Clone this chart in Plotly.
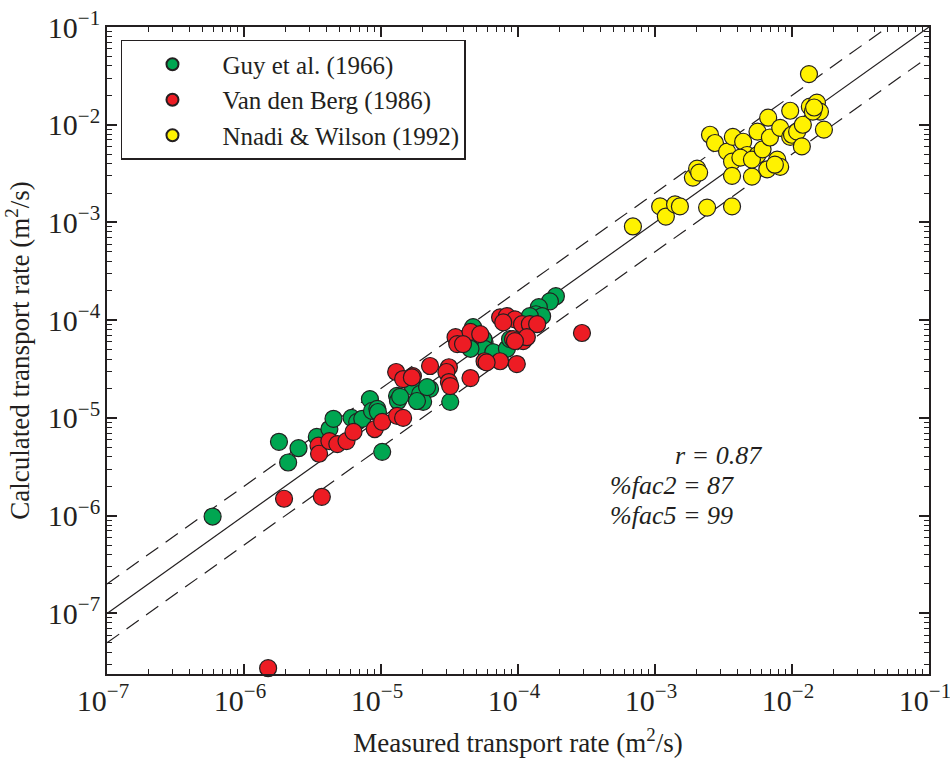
import plotly.graph_objects as go

# Guy et al. (1966)
guy_meas = [5.9e-7, 1.8e-6, 2.1e-6, 2.5e-6, 3.4e-6, 4.2e-6, 4.5e-6, 6.1e-6, 6.7e-6, 7.3e-6,
            8.3e-6, 8.6e-6, 9.4e-6, 1.02e-5, 9.5e-6, 1.31e-5, 1.33e-5, 1.71e-5, 1.93e-5, 2.28e-5,
            2.03e-5, 1.83e-5, 3.2e-5, 4.7e-5, 5.7e-5, 6.5e-5, 4.7e-5, 5.6e-5, 5.7e-5, 4.5e-5,
            6.6e-5, 8.3e-5, 1.89e-4, 1.71e-4, 1.42e-4, 1.35e-4, 1.5e-4, 1.22e-4, 2.17e-5, 8.75e-5,
            1.38e-5]
guy_calc = [9.8e-7, 5.7e-6, 3.5e-6, 4.9e-6, 6.4e-6, 7.7e-6, 9.8e-6, 1.0e-5, 9.1e-6, 9.8e-6,
            1.56e-5, 1.18e-5, 1.24e-5, 4.5e-6, 1.15e-5, 1.68e-5, 1.49e-5, 2.07e-5, 1.76e-5, 1.98e-5,
            1.46e-5, 1.49e-5, 1.46e-5, 5.4e-5, 6.0e-5, 4.7e-5, 8.5e-5, 6.4e-5, 5.1e-5, 5.1e-5,
            4.7e-5, 5.1e-5, 1.76e-4, 1.56e-4, 1.36e-4, 1.15e-4, 1.1e-4, 1.1e-4, 2.07e-5, 6.4e-5,
            1.64e-5]

# Van den Berg (1986)
vdb_meas = [1.5e-6, 1.96e-6, 3.7e-6, 3.5e-6, 3.53e-6, 4.2e-6, 4.8e-6, 5.6e-6, 6.3e-6, 9.0e-6,
            1.02e-5, 1.29e-5, 1.45e-5, 1.71e-5, 1.31e-5, 1.45e-5, 2.28e-5, 3.13e-5, 3.0e-5, 3.13e-5,
            4.5e-5, 5.7e-5, 7.4e-5, 9.8e-5, 3.5e-5, 4.5e-5, 5.3e-5, 3.6e-5, 9.2e-5, 1.09e-4,
            2.93e-4, 7.4e-5, 8.3e-5, 9.5e-5, 7.8e-5, 1.07e-4, 1.22e-4, 1.38e-4, 1.16e-4, 9.5e-5,
            5.9e-5, 3.97e-5, 3.2e-5, 1.68e-5]
vdb_calc = [2.75e-8, 1.49e-6, 1.56e-6, 5.2e-6, 4.3e-6, 5.8e-6, 5.4e-6, 5.8e-6, 7.2e-6, 7.7e-6,
            9.1e-6, 2.95e-5, 2.5e-5, 2.68e-5, 1.05e-5, 1.0e-5, 3.4e-5, 3.3e-5, 2.95e-5, 2.33e-5,
            2.56e-5, 3.8e-5, 3.8e-5, 3.56e-5, 6.7e-5, 7.6e-5, 7.2e-5, 5.7e-5, 6.4e-5, 6.1e-5,
            7.4e-5, 1.07e-4, 1.1e-4, 1.02e-4, 9.5e-5, 9.1e-5, 9.1e-5, 9.1e-5, 6.7e-5, 6.1e-5,
            3.7e-5, 5.7e-5, 2.12e-5, 2.6e-5]

# Nnadi & Wilson (1992)
nw_meas = [6.9e-4, 1.09e-3, 1.2e-3, 1.4e-3, 1.52e-3, 2.4e-3, 3.65e-3, 1.89e-3, 2.03e-3, 2.1e-3,
           2.52e-3, 2.74e-3, 3.36e-3, 3.65e-3, 3.65e-3, 3.7e-3, 4.4e-3, 4.7e-3, 4.2e-3, 5.6e-3,
           5.1e-3, 5.6e-3, 5.1e-3, 6.1e-3, 6.7e-3, 6.9e-3, 6.6e-3, 7.8e-3, 8.2e-3, 7.5e-3,
           8.2e-3, 9.7e-3, 9.7e-3, 1.0e-2, 1.09e-2, 1.18e-2, 1.2e-2, 1.35e-2, 1.52e-2, 1.6e-2,
           1.42e-2, 1.71e-2, 1.33e-2, 1.45e-2]
nw_calc = [9.1e-4, 1.46e-3, 1.15e-3, 1.53e-3, 1.46e-3, 1.42e-3, 1.46e-3, 2.88e-3, 3.56e-3, 3.24e-3,
           7.9e-3, 6.5e-3, 5.3e-3, 4.2e-3, 3.0e-3, 7.5e-3, 6.7e-3, 4.9e-3, 4.6e-3, 8.5e-3,
           2.94e-3, 4.9e-3, 4.4e-3, 5.6e-3, 1.18e-2, 7.4e-3, 3.5e-3, 4.4e-3, 3.7e-3, 3.9e-3,
           9.3e-3, 1.39e-2, 7.5e-3, 7.9e-3, 8.5e-3, 6.0e-3, 1.0e-2, 1.53e-2, 1.68e-2, 1.36e-2,
           1.36e-2, 8.9e-3, 3.3e-2, 1.5e-2]

# reference lines: perfect agreement and factor-of-2 bounds
line_x = [1e-7, 1e-1]
factors = [1.0, 2.0, 0.5]

stats_text = ["r = 0.87", "%fac2 = 87", "%fac5 = 99"]

FONT = "Times New Roman, Liberation Serif, serif"
INK = "#231f20"

fig = go.Figure()

for f in factors:
    fig.add_trace(go.Scatter(
        x=line_x, y=[v * f for v in line_x], mode="lines",
        line=dict(color=INK, width=1.2, dash="solid" if f == 1.0 else "15px,9px"),
        showlegend=False, hoverinfo="skip"))

series = [
    ("Guy et al. (1966)", guy_meas, guy_calc, "#00a651"),
    ("Van den Berg (1986)", vdb_meas, vdb_calc, "#ed1c24"),
    ("Nnadi &amp; Wilson (1992)", nw_meas, nw_calc, "#fff200"),
]
for name, xs, ys, col in series:
    fig.add_trace(go.Scatter(
        x=xs, y=ys, mode="markers", name=name, cliponaxis=False,
        marker=dict(size=17, color=col, line=dict(color=INK, width=1.2))))

axis_common = dict(
    type="log", dtick=1, exponentformat="power", showexponent="all",
    ticks="inside", ticklen=10, tickwidth=1.5, tickcolor=INK,
    showline=True, linecolor=INK, linewidth=2, mirror="ticks",
    showgrid=False, zeroline=False, ticklabeloverflow="allow", automargin=False,
    minor=dict(ticks="inside", ticklen=5, tickwidth=1.2, tickcolor=INK, showgrid=False),
    tickfont=dict(family=FONT, size=24, color=INK),
)

fig.update_xaxes(range=[-7, -1], ticklabelshift=-4,
                 title=dict(text="Measured transport rate (m<sup>2</sup>/s)",
                            font=dict(family=FONT, size=27, color=INK), standoff=22),
                 **axis_common)
fig.update_yaxes(range=[-7.62, -1],
                 title=dict(text="Calculated transport rate (m<sup>2</sup>/s)",
                            font=dict(family=FONT, size=27, color=INK), standoff=10),
                 **axis_common)

# stats text positions (paper coords, left-anchored)
positions = [(0.688, 0.338), (0.609, 0.2915), (0.609, 0.245)]
for t, (px, py) in zip(stats_text, positions):
    fig.add_annotation(
        x=px, y=py, xref="paper", yref="paper",
        text=f"<i>{t}</i>", showarrow=False,
        font=dict(family=FONT, size=26, color=INK),
        xanchor="left", yanchor="middle")

fig.update_layout(
    width=950, height=758,
    margin=dict(l=107, r=21, t=27, b=84, autoexpand=False),
    paper_bgcolor="white", plot_bgcolor="white",
    showlegend=True,
    legend=dict(x=0.017, y=0.98, xanchor="left", yanchor="top",
                bgcolor="white", bordercolor=INK, borderwidth=1.5,
                font=dict(family=FONT, size=25, color=INK),
                itemsizing="constant", tracegroupgap=0, itemwidth=90),
)

# remove the browser's default 8px body margin so the figure fills the window exactly
fig.write_html("out.html", config={"displayModeBar": False},
               post_script="document.body.style.margin='0';")
